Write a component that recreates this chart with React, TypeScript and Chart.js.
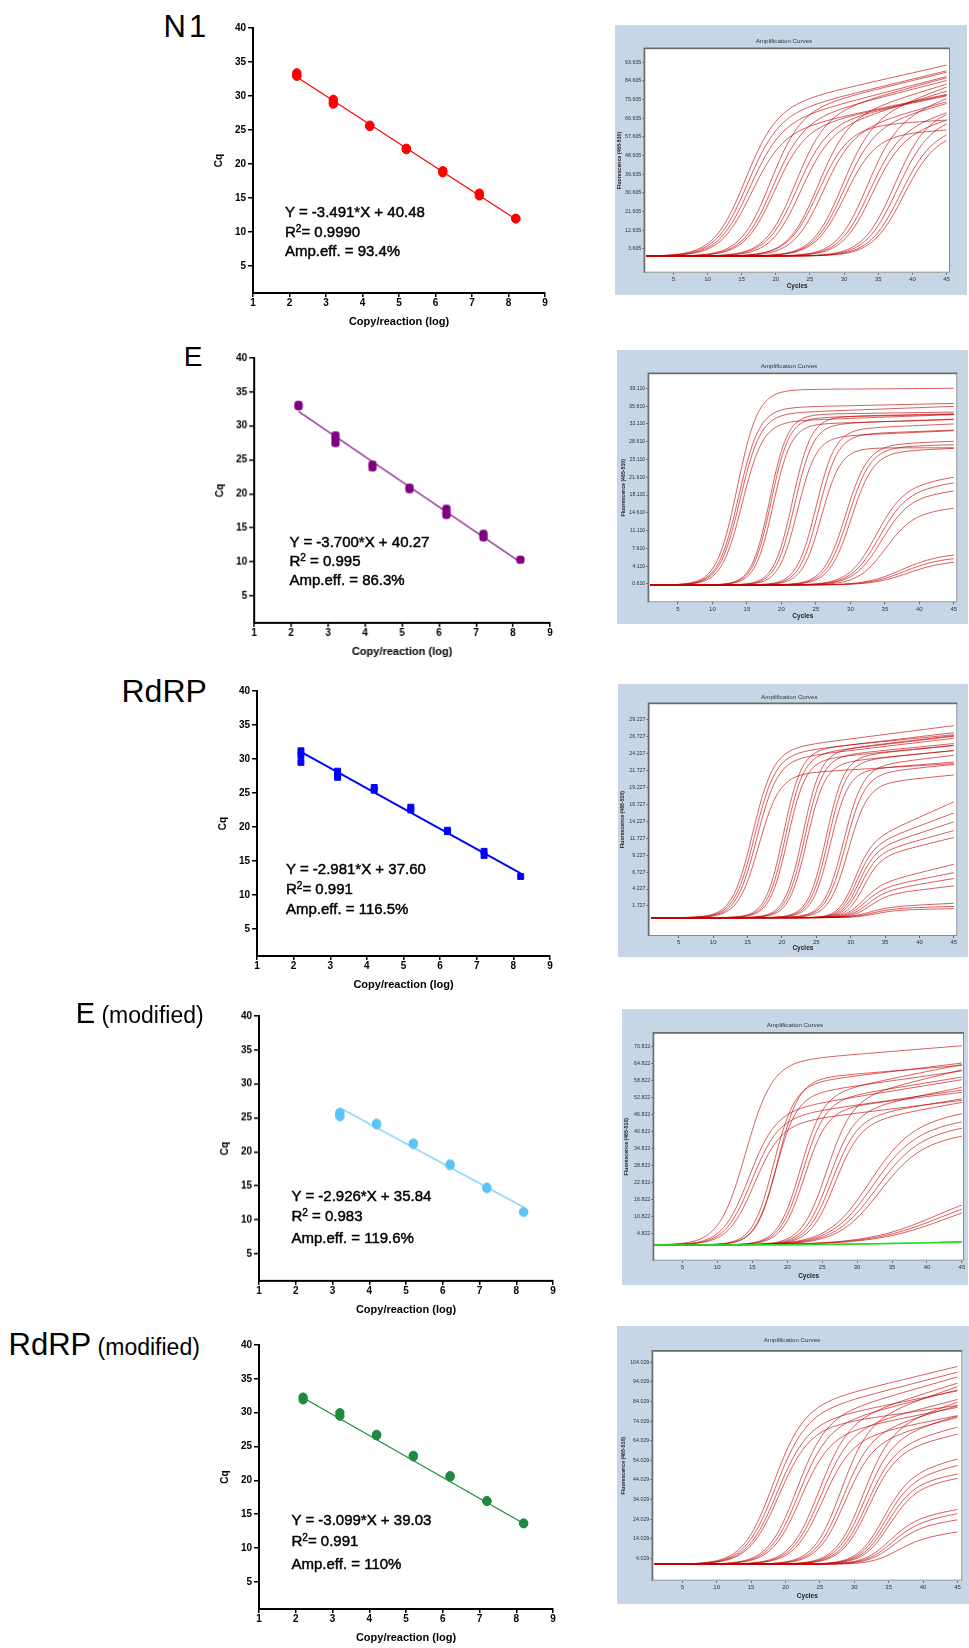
import React, { useEffect, useRef } from 'react';
import { Chart, registerables } from 'chart.js';

Chart.register(...registerables);

const FONT = '"Liberation Sans", Arial, Helvetica, sans-serif';

// ---------------- Standard curves (Cq vs log copies/reaction) ----------------
const copyLog = [2.2, 3.2, 4.2, 5.2, 6.2, 7.2, 8.2];
const copyLogEMod = [3.2, 4.2, 5.2, 6.2, 7.2, 8.2];
const copyTicks = [1, 2, 3, 4, 5, 6, 7, 8, 9];
const cqTicks = [5, 10, 15, 20, 25, 30, 35, 40];

const n1Cq = [[33.4, 33.0, 32.9], [29.5, 29.1, 28.8], [25.7, 25.5], [22.3, 22.1], [19.0, 18.7], [15.7, 15.3], [12.0, 11.9]];
const eCq = [[33.1, 32.9], [28.6, 28.1, 27.5], [24.3, 23.9], [20.9, 20.7], [17.8, 17.2, 16.9], [14.1, 13.6], [10.3]];
const rdrpCq = [[31.2, 30.5, 29.5], [28.2, 27.8, 27.3], [25.8, 25.4], [22.9, 22.5], [19.5, 19.3], [16.4, 15.8], [12.7]];
const eModCq = [[25.8, 25.4, 25.2], [24.2, 24.0], [21.3, 21.1], [18.2, 18.0], [14.8, 14.6], [11.2, 11.1]];
const rdrpModCq = [[32.3, 31.9], [30.0, 29.5], [26.8, 26.6], [23.7, 23.5], [20.7, 20.5], [17.0, 16.9], [13.7, 13.6]];

// regression line end points [log copies, Cq]
const n1Fit = [[2.2, 32.80], [8.2, 11.85]];
const eFit = [[2.2, 32.13], [8.2, 9.93]];
const rdrpFit = [[2.2, 31.04], [8.2, 13.16]];
const eModFit = [[3.2, 26.48], [8.2, 11.85]];
const rdrpModFit = [[2.2, 32.21], [8.2, 13.62]];

const n1Eq = ['Y = -3.491*X + 40.48', '= 0.9990', 'Amp.eff. = 93.4%'];
const eEq = ['Y = -3.700*X + 40.27', ' = 0.995', 'Amp.eff. = 86.3%'];
const rdrpEq = ['Y = -2.981*X + 37.60', '= 0.991', 'Amp.eff. = 116.5%'];
const eModEq = ['Y = -2.926*X + 35.84', ' = 0.983', 'Amp.eff. = 119.6%'];
const rdrpModEq = ['Y = -3.099*X + 39.03', '= 0.991', 'Amp.eff. = 110%'];

// ---------------- Amplification curves (per-curve parameters) ----------------
const cycleTicks = [5, 10, 15, 20, 25, 30, 35, 40, 45];

const n1FluorTicks = [3.605, 12.605, 21.605, 30.605, 39.605, 48.605, 57.605, 66.605, 75.605, 84.605, 93.605];
const n1Mid = [15.3, 15.6, 15.9, 16.2, 19.0, 19.3, 19.6, 22.6, 22.9, 23.3, 25.9, 26.2, 26.6, 29.4, 29.7, 30.1, 33.0, 33.4, 33.8, 37.2, 37.6, 38.1, 38.5];
const n1Top = [70, 66, 62, 58, 68, 63, 60, 66, 62, 58, 64, 62, 58, 63, 60, 58, 62, 58, 56, 66, 62, 58, 56];
const n1Drift = [0.75, 0.8, 0.85, 0.7, 0.8, 0.85, 0.7, 0.9, 0.7, 1.0, 1.0, 0.2, 0.9, 1.2, 0.9, 0.2, 1.2, 1.0, 0.9, 0.6, 0.6, 0.5, 0.5];
const n1Steep = [2.3, 2.3, 2.3, 2.3, 2.2, 2.2, 2.2, 2.2, 2.2, 2.2, 2.2, 2.2, 2.2, 2.2, 2.2, 2.2, 2.2, 2.2, 2.2, 2.3, 2.3, 2.3, 2.3];

const eFluorTicks = [0.61, 4.11, 7.61, 11.11, 14.61, 18.11, 21.61, 25.11, 28.61, 32.11, 35.61, 39.11];
const eMid = [13.6, 13.8, 14.0, 14.3, 18.3, 18.5, 18.8, 21.6, 21.9, 22.3, 25.0, 25.4, 25.8, 29.3, 29.7, 30.1, 33.6, 34.0, 34.4, 35.0, 37.0, 37.5, 38.0];
const eTop = [38.4, 34.8, 33.6, 32.0, 33.5, 32.8, 31.5, 33.0, 31.5, 29.0, 30.5, 29.5, 27.0, 27.5, 27.0, 26.0, 19.0, 18.0, 17.0, 14.0, 5.5, 5.0, 4.4];
const eDrift = [0.01, 0.03, 0.05, 0.05, 0.02, 0.03, 0.04, 0.03, 0.05, 0.06, 0.06, 0.05, 0.0, 0.05, 0.04, 0.06, 0.2, 0.2, 0.15, 0.12, 0.08, 0.06, 0.05];
const eSteep = [1.5, 1.5, 1.5, 1.5, 1.3, 1.3, 1.3, 1.35, 1.35, 1.35, 1.4, 1.4, 1.4, 1.6, 1.6, 1.6, 2.0, 2.0, 2.0, 2.0, 2.5, 2.5, 2.5];

const rdrpFluorTicks = [1.727, 4.227, 6.727, 9.227, 11.727, 14.227, 16.727, 19.227, 21.727, 24.227, 26.727, 29.227];
const rdrpMid = [15.7, 16.0, 16.3, 16.6, 20.2, 20.5, 20.8, 23.0, 23.3, 23.6, 26.4, 26.7, 27.0, 28.9, 29.2, 29.6, 30.4, 30.7, 31.0, 31.3, 31.7, 31.5, 31.8, 32.2, 32.6, 32.5, 33.0, 33.5];
const rdrpTop = [24.5, 23.8, 23.0, 21.0, 24.5, 23.8, 23.0, 24.2, 23.5, 22.5, 23.5, 22.8, 21.5, 22.0, 21.0, 19.5, 10.5, 10.0, 9.5, 9.0, 8.5, 4.5, 4.0, 3.6, 3.2, 1.5, 1.3, 1.1];
const rdrpDrift = [0.13, 0.12, 0.12, 0.06, 0.1, 0.12, 0.1, 0.12, 0.1, 0.1, 0.1, 0.1, 0.08, 0.12, 0.1, 0.1, 0.45, 0.38, 0.33, 0.28, 0.25, 0.25, 0.2, 0.17, 0.12, 0.05, 0.03, 0.02];
const rdrpSteep = [1.5, 1.5, 1.5, 1.5, 1.3, 1.3, 1.3, 1.3, 1.3, 1.3, 1.3, 1.3, 1.3, 1.4, 1.4, 1.4, 1.2, 1.2, 1.2, 1.2, 1.2, 1.3, 1.3, 1.3, 1.3, 1.5, 1.5, 1.5];

const eModFluorTicks = [4.822, 10.822, 16.822, 22.822, 28.822, 34.822, 40.822, 46.822, 52.822, 58.822, 64.822, 70.822];
const eModMid = [14.0, 14.4, 14.8, 15.2, 18.0, 18.3, 18.6, 21.8, 22.1, 22.4, 25.5, 25.9, 26.3, 26.7, 31.5, 32.0, 32.5, 33.0, 41.5, 42.0, 42.5];
const eModTop = [64, 46, 44, 42, 56, 52, 58, 52, 50, 47, 50, 46, 44, 42, 42, 40, 38, 36, 21, 19.5, 18];
const eModDrift = [0.2, 0.4, 0.35, 0.3, 0.3, 0.35, 0.2, 0.5, 0.4, 0.3, 0.6, 0.5, 0.4, 0.45, 0.35, 0.3, 0.3, 0.25, 0, 0, 0];
const eModSteep = [1.9, 1.9, 1.9, 1.9, 1.5, 1.5, 1.5, 1.6, 1.6, 1.6, 1.8, 1.8, 1.8, 1.8, 3.0, 3.0, 3.0, 3.0, 5.0, 5.0, 5.0];
// no-template controls (green), [cycle, fluorescence]
const eModNtcA = [[1, 1.0], [10, 1.0], [20, 1.05], [30, 1.3], [40, 1.7], [45, 1.9]];
const eModNtcB = [[1, 0.9], [12, 0.9], [25, 1.1], [35, 1.5], [45, 2.1]];

const rdrpModFluorTicks = [4.029, 14.029, 24.029, 34.029, 44.029, 54.029, 64.029, 74.029, 84.029, 94.029, 104.029];
const rdrpModMid = [18.0, 18.3, 18.6, 18.9, 21.4, 21.7, 22.0, 24.6, 24.9, 25.2, 27.8, 28.1, 28.4, 31.0, 31.3, 31.6, 31.9, 34.0, 34.3, 34.6, 34.9, 34.8, 35.1, 35.4, 35.7];
const rdrpModTop = [78, 74, 70, 68, 72, 68, 64, 70, 66, 62, 70, 64, 60, 66, 62, 58, 56, 44, 42, 40, 38, 22, 20, 18, 12];
const rdrpModDrift = [0.85, 0.9, 0.7, 0.5, 1.0, 0.9, 0.7, 1.1, 0.9, 0.7, 1.2, 1.0, 0.9, 1.2, 1.0, 0.9, 0.8, 0.9, 0.8, 0.6, 0.6, 0.6, 0.6, 0.5, 0.5];
const rdrpModSteep = [2.2, 2.2, 2.2, 2.2, 2.1, 2.1, 2.1, 2.1, 2.1, 2.1, 2.0, 2.0, 2.0, 2.0, 2.0, 2.0, 2.0, 1.9, 1.9, 1.9, 1.9, 1.9, 1.9, 1.9, 1.9];

const CYCLES = Array.from({ length: 45 }, (_, i) => i + 1);

// ---------------- components ----------------
type Pt = { x: number; y: number };

const PL = 60, PT = 15, PR = 20, PB = 45;

function StandardCurve(p: {
  left: number; top: number; w: number; h: number;
  xs: number[]; cq: number[][]; fit: number[][]; color: string; lw: number; pointStyle: any;
}) {
  const ref = useRef<HTMLCanvasElement>(null);
  const W = p.w + PL + PR, H = p.h + PT + PB;
  useEffect(() => {
    const pts: Pt[] = [];
    p.xs.forEach((x, i) => p.cq[i].forEach((y) => pts.push({ x, y })));
    const tickFont = { family: FONT, size: 10, weight: 'bold' as const };
    const chart = new Chart(ref.current!, {
      type: 'scatter',
      data: {
        datasets: [
          {
            type: 'line', data: p.fit.map(([x, y]) => ({ x, y })), borderColor: p.color,
            borderWidth: p.lw, pointRadius: 0, fill: false, order: 2,
          } as any,
          {
            type: 'scatter', data: pts, backgroundColor: p.color, borderColor: p.color,
            pointRadius: 4.2, pointStyle: p.pointStyle, order: 1,
          } as any,
        ],
      },
      options: {
        animation: false, responsive: false, maintainAspectRatio: false, devicePixelRatio: 1,
        layout: { padding: { left: 0, top: PT, right: PR, bottom: 0 } },
        plugins: { legend: { display: false }, tooltip: { enabled: false } },
        scales: {
          x: {
            type: 'linear', min: 1, max: 9,
            afterBuildTicks: (ax: any) => { ax.ticks = copyTicks.map((v) => ({ value: v })); },
            afterFit: (s: any) => { s.height = PB; },
            grid: { display: true, drawOnChartArea: false, drawTicks: true, tickLength: 4, color: '#000', lineWidth: 1.5 },
            border: { display: true, color: '#000', width: 2 },
            ticks: { font: tickFont, color: '#000', padding: 0, maxRotation: 0, autoSkip: false },
            title: { display: true, text: 'Copy/reaction (log)', color: '#000', font: { family: FONT, size: 11, weight: 'bold' }, padding: { top: 0, bottom: 9.5 } },
          },
          y: {
            type: 'linear', min: 1, max: 40,
            afterBuildTicks: (ax: any) => { ax.ticks = cqTicks.map((v) => ({ value: v })); },
            afterFit: (s: any) => { s.width = PL; },
            grid: { display: true, drawOnChartArea: false, drawTicks: true, tickLength: 5, color: '#000', lineWidth: 1.5 },
            border: { display: true, color: '#000', width: 2 },
            ticks: { font: tickFont, color: '#000', padding: 2, autoSkip: false },
            title: { display: true, text: 'Cq', color: '#000', font: { family: FONT, size: 10, weight: 'bold' }, padding: { top: 20, bottom: 0 } },
          },
        },
      } as any,
    });
    return () => chart.destroy();
  }, []);
  return (
    <canvas ref={ref} width={W} height={H}
      style={{ position: 'absolute', left: p.left - PL, top: p.top - PT, width: W, height: H }} />
  );
}

const plotFrame = {
  id: 'plotFrame',
  beforeDraw(chart: any) {
    const { ctx, chartArea: a } = chart;
    ctx.save();
    ctx.fillStyle = '#ffffff';
    ctx.fillRect(a.left, a.top, a.right - a.left, a.bottom - a.top);
    ctx.restore();
  },
  afterDraw(chart: any) {
    const { ctx, chartArea: a } = chart;
    ctx.save();
    ctx.strokeStyle = '#8a8a8a';
    ctx.lineWidth = 1;
    ctx.strokeRect(a.left + 0.5, a.top + 0.5, a.right - a.left - 1, a.bottom - a.top - 1);
    ctx.strokeStyle = '#6d6d6d';
    ctx.lineWidth = 1.5;
    ctx.beginPath();
    ctx.moveTo(a.left, a.bottom);
    ctx.lineTo(a.left, a.top);
    ctx.lineTo(a.right, a.top);
    ctx.stroke();
    ctx.restore();
  },
};

function AmpPanel(p: {
  box: [number, number, number, number]; // left, top, right, bottom
  plot: [number, number, number, number];
  xr: [number, number]; yr: [number, number];
  yTicks: number[]; digits: number;
  mid: number[]; top: number[]; drift: number[]; steep: number[]; base: number;
  green?: number[][][];
  titleX: number; titleY: number; yTitleX: number; xTitleY: number;
}) {
  const ref = useRef<HTMLCanvasElement>(null);
  const [bl, bt, br, bb] = p.box;
  const [pl, pt, pr, pb] = p.plot;
  const W = br - bl, H = bb - bt;
  useEffect(() => {
    const datasets: any[] = [];
    (p.green || []).forEach((g) => {
      datasets.push({
        data: g.map(([x, y]) => ({ x, y })), borderColor: 'rgba(40,220,40,0.95)', borderWidth: 1.4,
        pointRadius: 0, fill: false, tension: 0.3,
      });
    });
    p.mid.forEach((m, i) => {
      const P = p.top[i], g = p.drift[i], k = p.steep[i];
      datasets.push({
        data: CYCLES.map((c) => ({ x: c, y: p.base + (P + g * (c - m)) / (1 + Math.exp(-(c - m) / k)) })),
        borderColor: 'rgba(195,0,0,0.7)', borderWidth: 0.9, pointRadius: 0, fill: false,
        cubicInterpolationMode: 'monotone',
      });
    });
    const small = { family: FONT, size: 5.3 };
    const chart = new Chart(ref.current!, {
      type: 'line',
      data: { datasets },
      options: {
        animation: false, responsive: false, maintainAspectRatio: false, devicePixelRatio: 1,
        layout: { padding: { left: 0, top: pt - bt, right: br - pr, bottom: 0 } },
        plugins: { legend: { display: false }, tooltip: { enabled: false } },
        scales: {
          x: {
            type: 'linear', min: p.xr[0], max: p.xr[1],
            afterBuildTicks: (ax: any) => { ax.ticks = cycleTicks.map((v) => ({ value: v })); },
            afterFit: (s: any) => { s.height = bb - pb; },
            grid: { display: true, drawOnChartArea: false, drawTicks: true, tickLength: 2, color: '#666' },
            border: { display: false },
            ticks: { font: { family: FONT, size: 6 }, color: '#333', padding: 1, maxRotation: 0, autoSkip: false },
            title: { display: true, text: 'Cycles', color: '#222', font: { family: FONT, size: 6.5, weight: 'bold' }, padding: { top: 0, bottom: Math.max(0, bb - p.xTitleY - 3.9) } },
          },
          y: {
            type: 'linear', min: p.yr[0], max: p.yr[1],
            afterBuildTicks: (ax: any) => { ax.ticks = p.yTicks.map((v) => ({ value: v })); },
            afterFit: (s: any) => { s.width = pl - bl; },
            grid: { display: true, drawOnChartArea: false, drawTicks: true, tickLength: 2, color: '#666' },
            border: { display: false },
            ticks: { font: small, color: '#333', padding: 1, autoSkip: false, callback: (v: any) => Number(v).toFixed(p.digits) },
            title: { display: true, text: 'Fluorescence (465-510)', color: '#222', font: { family: FONT, size: 5.2, weight: 'bold' }, padding: { top: Math.max(0, p.yTitleX - bl - 3.1), bottom: 0 } },
          },
        },
      } as any,
      plugins: [plotFrame],
    });
    return () => chart.destroy();
  }, []);
  return (
    <>
      <div style={{ position: 'absolute', left: bl, top: bt, width: W, height: H, background: '#c6d6e6' }} />
      <canvas ref={ref} width={W} height={H} style={{ position: 'absolute', left: bl, top: bt, width: W, height: H }} />
      <div style={{
        position: 'absolute', left: p.titleX - 60, top: p.titleY - 4, width: 120, textAlign: 'center',
        fontFamily: FONT, fontSize: 6.2, lineHeight: '8px', color: '#333',
      }}>Amplification Curves</div>
    </>
  );
}

function Title(p: { left: number; baseline: number; main: string; size: number; sub?: string; subSize?: number; spacing?: number }) {
  return (
    <div style={{
      position: 'absolute', left: p.left, top: p.baseline - 0.8465 * p.size, fontFamily: FONT,
      fontSize: p.size, lineHeight: 1, whiteSpace: 'nowrap', color: '#000', letterSpacing: p.spacing || 0,
    }}>
      {p.main}
      {p.sub ? <span style={{ fontSize: p.subSize, letterSpacing: 0 }}>{' '}{p.sub}</span> : null}
    </div>
  );
}

function Equation(p: { left: number; centers: number[]; lines: string[] }) {
  const st: React.CSSProperties = {
    position: 'absolute', left: p.left, fontFamily: FONT, fontSize: 15, lineHeight: '18px', height: 18,
    whiteSpace: 'nowrap', color: '#000', WebkitTextStroke: '0.45px #000',
  };
  return (
    <>
      <div style={{ ...st, top: p.centers[0] - 9 }}>{p.lines[0]}</div>
      <div style={{ ...st, top: p.centers[1] - 9 }}>R<sup style={{ fontSize: 10, lineHeight: 0, verticalAlign: '5px' }}>2</sup>{p.lines[1]}</div>
      <div style={{ ...st, top: p.centers[2] - 9 }}>{p.lines[2]}</div>
    </>
  );
}

export default function App() {
  return (
    <div style={{ position: 'absolute', left: 0, top: 0, width: 969, height: 1648, background: '#fff', overflow: 'hidden' }}>
      {/* Row 1: N1 */}
      <Title left={163.5} baseline={37} main="N1" size={31} spacing={3} />
      <StandardCurve left={252.7} top={28.3} w={292.3} h={265} xs={copyLog} cq={n1Cq} fit={n1Fit} color="#ff0000" lw={1.2} pointStyle="circle" />
      <Equation left={285} centers={[211.7, 231.5, 250.5]} lines={n1Eq} />
      <AmpPanel box={[615, 25, 967, 295]} plot={[644.3, 48.3, 950, 272.7]} xr={[0.75, 45.5]} yr={[-8, 100.4]}
        yTicks={n1FluorTicks} digits={3} mid={n1Mid} top={n1Top} drift={n1Drift} steep={n1Steep} base={0}
        titleX={784} titleY={40.7} yTitleX={619.3} xTitleY={286.7} />

      {/* Row 2: E */}
      <Title left={183.8} baseline={367} main="E" size={28} />
      <StandardCurve left={254.3} top={358.3} w={295.7} h={264.4} xs={copyLog} cq={eCq} fit={eFit} color="#800080" lw={1.2} pointStyle="rectRounded" />
      <Equation left={289.5} centers={[541.7, 560.7, 580]} lines={eEq} />
      <AmpPanel box={[617, 350, 968, 624]} plot={[648.3, 373.3, 957.3, 602.3]} xr={[0.7, 45.5]} yr={[-3.0, 42.06]}
        yTicks={eFluorTicks} digits={3} mid={eMid} top={eTop} drift={eDrift} steep={eSteep} base={0.4}
        titleX={789} titleY={365.7} yTitleX={623.5} xTitleY={616.7} />

      {/* Row 3: RdRP */}
      <Title left={121.5} baseline={702} main="RdRP" size={32} />
      <StandardCurve left={256.5} top={690.5} w={293.2} h={265} xs={copyLog} cq={rdrpCq} fit={rdrpFit} color="#0000ff" lw={1.8} pointStyle="rect" />
      <Equation left={286} centers={[869, 889, 909]} lines={rdrpEq} />
      <AmpPanel box={[618, 684, 968, 957]} plot={[648.5, 703.3, 957.3, 936]} xr={[0.6, 45.5]} yr={[-2.7, 31.6]}
        yTicks={rdrpFluorTicks} digits={3} mid={rdrpMid} top={rdrpTop} drift={rdrpDrift} steep={rdrpSteep} base={0}
        titleX={789.3} titleY={696.7} yTitleX={622.8} xTitleY={948.3} />

      {/* Row 4: E (modified) */}
      <Title left={75.7} baseline={1024} main="E" size={29} sub="(modified)" subSize={23} />
      <StandardCurve left={259.3} top={1016.3} w={294.2} h={264.7} xs={copyLogEMod} cq={eModCq} fit={eModFit} color="#5cc3f5" lw={1.2} pointStyle="circle" />
      <Equation left={291.5} centers={[1196, 1215.5, 1238]} lines={eModEq} />
      <AmpPanel box={[622, 1009, 968, 1285]} plot={[653.3, 1032.7, 964, 1260.7]} xr={[0.83, 45.3]} yr={[-4.6, 75.8]}
        yTicks={eModFluorTicks} digits={3} mid={eModMid} top={eModTop} drift={eModDrift} steep={eModSteep} base={1.0}
        green={[eModNtcA, eModNtcB]}
        titleX={795} titleY={1025} yTitleX={627} xTitleY={1276.7} />

      {/* Row 5: RdRP (modified) */}
      <Title left={8.5} baseline={1355} main="RdRP" size={31} sub="(modified)" subSize={23} />
      <StandardCurve left={259.3} top={1345} w={294.2} h={264.3} xs={copyLog} cq={rdrpModCq} fit={rdrpModFit} color="#1f8a3e" lw={1.2} pointStyle="circle" />
      <Equation left={291.5} centers={[1520, 1541, 1564]} lines={rdrpModEq} />
      <AmpPanel box={[617, 1326, 969, 1604]} plot={[652.3, 1350.7, 962.3, 1580.7]} xr={[0.64, 45.7]} yr={[-7.4, 110]}
        yTicks={rdrpModFluorTicks} digits={3} mid={rdrpModMid} top={rdrpModTop} drift={rdrpModDrift} steep={rdrpModSteep} base={1.0}
        titleX={792} titleY={1340} yTitleX={623.5} xTitleY={1596.7} />
    </div>
  );
}
